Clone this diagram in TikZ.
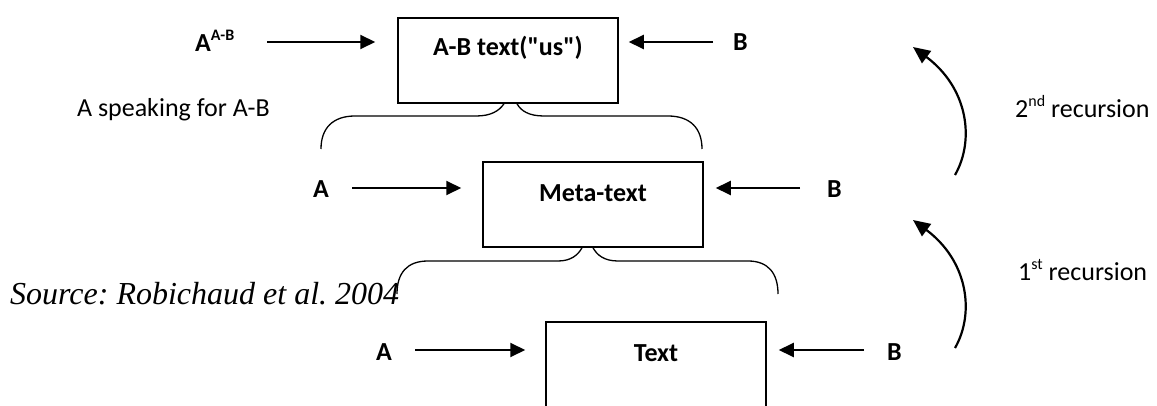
\documentclass[tikz,border=0pt]{standalone}
\usepackage{fontspec}
\setmainfont{Carlito}[Ligatures=TeXOff]
\newfontfamily\srcfont{Liberation Serif}
\usetikzlibrary{arrows.meta}
\newcommand{\mysup}[1]{\raisebox{11pt}{\fontsize{16}{16}\selectfont #1}}
\frenchspacing
\begin{document}
\begin{tikzpicture}[x=1pt,y=-1pt,
  font=\fontsize{26}{31}\selectfont,
  lbl/.style={inner sep=0,anchor=base west,font=\fontsize{26}{31}\selectfont\bfseries},
  inbox/.style={inner sep=0,anchor=base,font=\fontsize{26}{31}\selectfont\bfseries},
  plain/.style={inner sep=0,font=\fontsize{26}{31}\selectfont},
  box/.style={draw,line width=1.5pt,minimum width=220pt,inner sep=0},
  arr/.style={-{Triangle[length=15pt,width=14pt]},line width=2pt},
  brace/.style={line width=1.3pt},
  rec/.style={-{Triangle[length=17pt,width=15pt]},line width=2.2pt}]
\clip (0,0) rectangle (1157,406);
% row 1
\node[lbl] (a1) at (195,52) {A\mysup{A-B}};
\coordinate (a1s) at (267,42);
\node[box,minimum height=85pt] (box1) at (508,60.5) {};
\node[inbox] (t1) at (508,56) {A-B text("us")};
\coordinate (b1s) at (713,42);
\draw[arr] (a1s) -- ([xshift=-22pt]box1.west |- a1s);
\draw[arr] (b1s) -- ([xshift=10pt]box1.east |- b1s);
\node[lbl] (b1) at (733,51) {B};
\node[plain,anchor=base east] (sp) at (270,117) {A speaking for A-B};
% row 2
\node[lbl] (a2) at (313,198) {A};
\coordinate (a2s) at (352,188);
\node[box,minimum height=85pt] (box2) at (593,204.5) {};
\node[inbox] (t2) at (593,202) {Meta-text};
\coordinate (b2s) at (800,188);
\draw[arr] (a2s) -- ([xshift=-21pt]box2.west |- a2s);
\draw[arr] (b2s) -- ([xshift=12pt]box2.east |- b2s);
\node[lbl] (b2) at (827,198) {B};
% row 3
\node[lbl] (a3) at (376,360) {A};
\coordinate (a3s) at (415,350);
\node[box,minimum height=120pt] (box3) at (656,382) {};
\node[inbox] (t3) at (656,361) {Text};
\coordinate (b3s) at (864,350);
\draw[arr] (a3s) -- ([xshift=-20pt]box3.west |- a3s);
\draw[arr] (b3s) -- ([xshift=12pt]box3.east |- b3s);
\node[lbl] (b3) at (887,360) {B};
% braces
\draw[brace] (321,149) .. controls (321,128) and (333,116) .. (355,116) -- (476,116)
  .. controls (491,116) and (499,111) .. ([xshift=-4pt]box1.south);
\draw[brace] ([xshift=9pt]box1.south) .. controls (521,111) and (529,116) .. (544,116)
  -- (668,116) .. controls (690,116) and (702,128) .. (702,149);
\draw[brace] (397,294) .. controls (397,273) and (407,261) .. (428,261) -- (558,261)
  .. controls (571,261) and (578,255) .. ([xshift=-11pt]box2.south);
\draw[brace] (box2.south) .. controls (597,255) and (604,261) .. (618,261)
  -- (748,261) .. controls (768,261) and (778,273) .. (778,294);
% recursion arrows
\coordinate (r1s) at (955,175);
\coordinate (r1e) at (913,47);
\draw[rec] (r1s) .. controls (975,140) and (968,88) .. (r1e);
\node[plain,anchor=base west] (rec2) at (1015,118) {2\mysup{nd} recursion};
\coordinate (r2s) at (955,348);
\coordinate (r2e) at (913,220);
\draw[rec] (r2s) .. controls (975,313) and (968,261) .. (r2e);
\node[plain,anchor=base west] (rec1) at (1018,280) {1\mysup{st} recursion};
% source
\node[inner sep=0,anchor=base west,font=\fontsize{32}{37}\srcfont\itshape] (src) at (10,305) {Source: Robichaud et al. 2004};
\end{tikzpicture}
\end{document}
